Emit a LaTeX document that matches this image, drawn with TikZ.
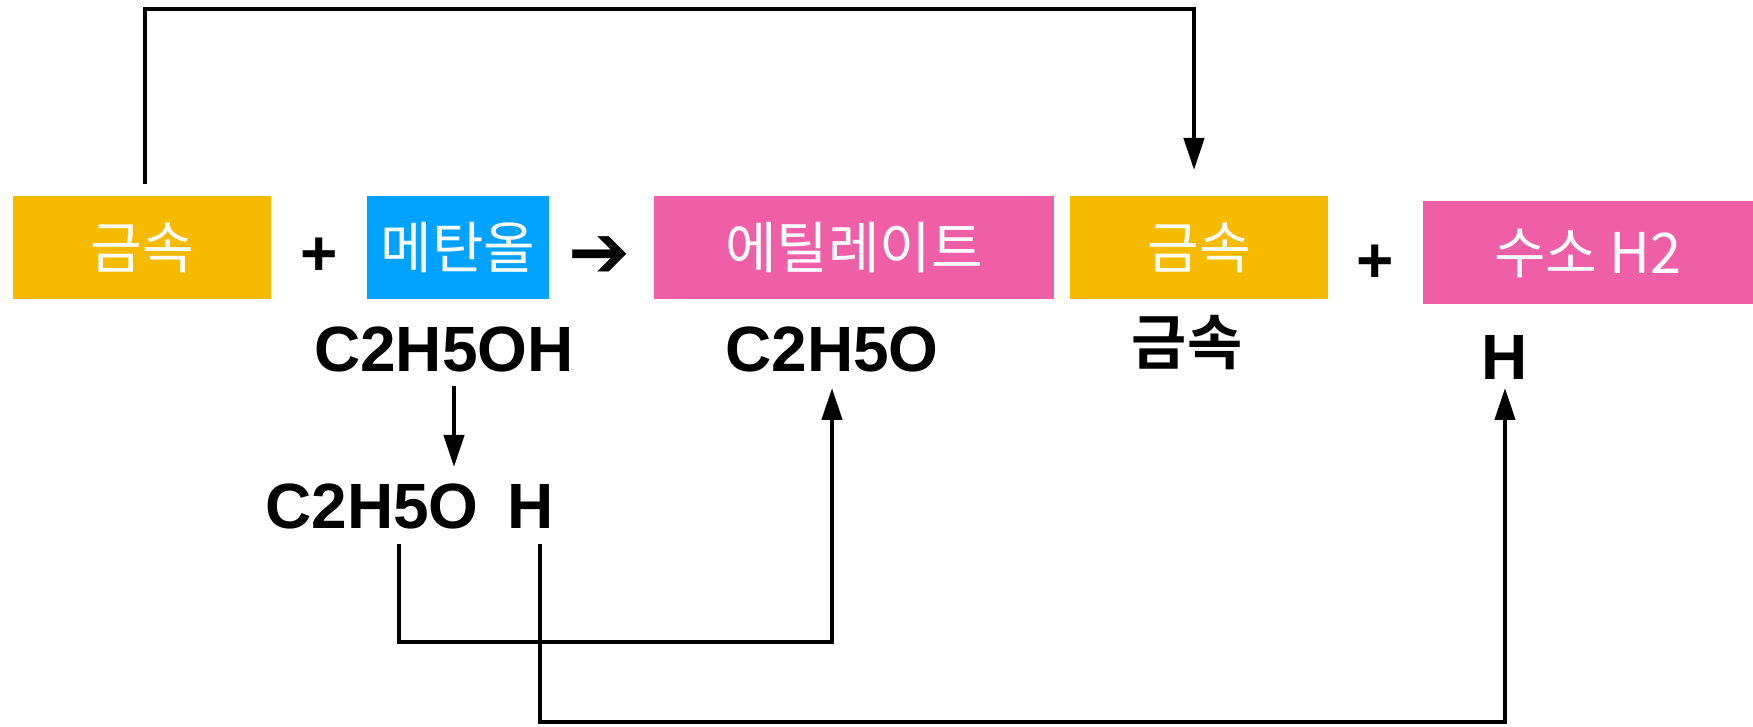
\documentclass[tikz,border=0pt]{standalone}
\usepackage{fontspec}
\setmainfont{Liberation Sans}
\newfontfamily\krfont[BoldFont={Noto Sans CJK KR Bold}]{Noto Sans CJK KR}
\newfontfamily\symfont{DejaVu Sans}
\usetikzlibrary{arrows.meta,positioning}
\definecolor{metalcol}{HTML}{F6BA00}
\definecolor{bluecol}{HTML}{00A2FF}
\definecolor{pinkcol}{HTML}{EF5FA7}

\begin{document}
\begin{tikzpicture}[x = .5pt, y = -.5pt,
  box/.style = {minimum height = 51.5pt, inner sep = 0pt, text = white,
    font = \krfont\fontsize{28}{32}\selectfont},
  formula/.style = {inner sep = 0pt, anchor = base,
    font = \bfseries\fontsize{32}{36}\selectfont},
  link/.style = {line width = 2.2pt, -{Triangle[width = 10pt, length = 16pt]}}]
\useasboundingbox (0, 0) rectangle (1753, 727);

\node[box, fill = metalcol, minimum width = 129pt] (metalA) at (142, 247.5) {금속};
\node[box, fill = bluecol, minimum width = 91pt] (methanol) at (458, 247.5) {메탄올};
\node[box, fill = pinkcol, minimum width = 200pt] (ethylate) at (854, 247.5) {에틸레이트};
\node[box, fill = metalcol, minimum width = 129pt] (metalB) at (1199, 247.5) {금속};
\node[box, fill = pinkcol, minimum width = 165pt] (hydrogen) at (1588, 253) {수소 H2};

\node[font = \bfseries\fontsize{32}{36}\selectfont] (plusA) at (319, 257) {+};
\node[font = \bfseries\fontsize{32}{36}\selectfont] (plusB) at (1375, 264) {+};
\node[font = \symfont\fontsize{37}{40}\selectfont] (yields) at (599, 257) {➔};

\node[formula] (ethanolF) at (444, 372) {C2H5OH};
\node[formula] (ethylF) at (832, 372) {C2H5O};
\node[font = \krfont\bfseries\fontsize{30}{34}\selectfont] (metalF) at (1187, 343) {금속};
\node[formula] (hF) at (1505, 380) {H};
\node[formula] (splitO) at (372, 529) {C2H5O};
\node[formula] (splitH) at (531, 529) {H};

\coordinate (topFrom) at (145, 184);
\coordinate (topTo) at (1194, 170);
\coordinate (breakFrom) at (454, 386);
\coordinate (breakTo) at (454, 467);
\coordinate (oFrom) at (399, 544);
\coordinate (oTo) at (832, 388);
\coordinate (hFrom) at (540, 544);
\coordinate (hTo) at (1505, 388);

\draw[link] (topFrom) -- ++(0, -175) -| (topTo);
\draw[link] (breakFrom) -- (breakTo);
\draw[link] (oFrom) -- ++(0, 98) -| (oTo);
\draw[link] (hFrom) -- ++(0, 178) -| (hTo);

\end{tikzpicture}
\end{document}
